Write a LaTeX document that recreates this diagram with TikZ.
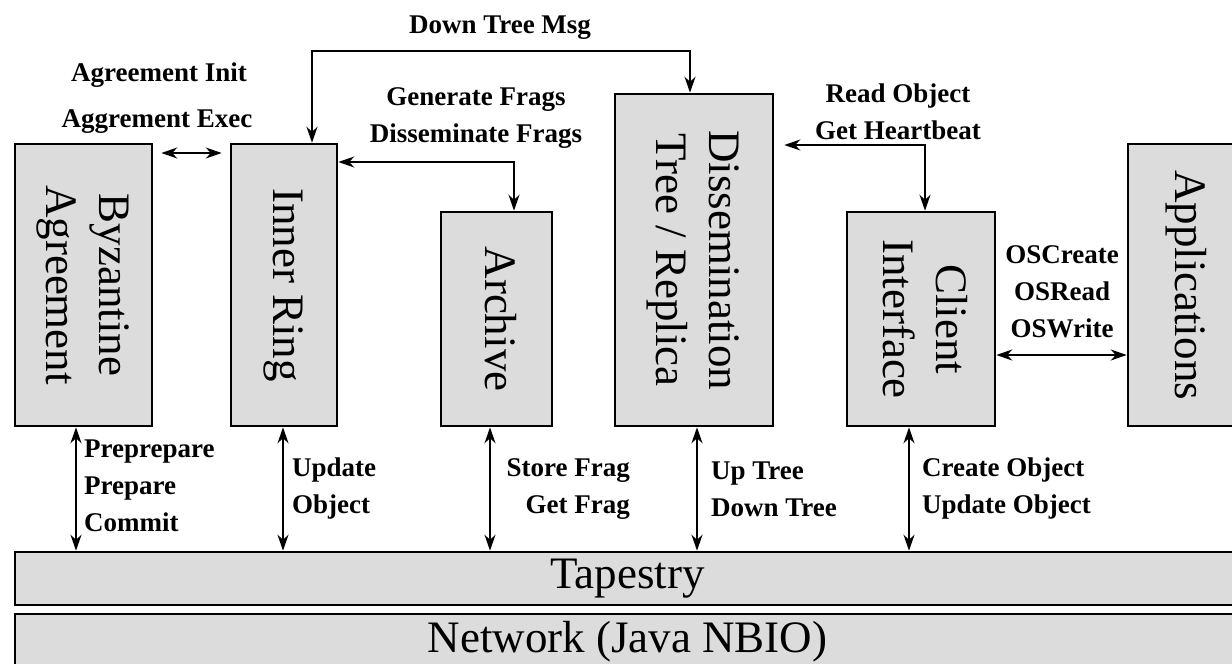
\documentclass[tikz,border=0pt]{standalone}
\usepackage{fontspec}
\setmainfont{Liberation Serif}
\usepackage{graphicx}
\usepackage{xcolor}
\usetikzlibrary{arrows.meta}

\definecolor{boxgray}{RGB}{220,220,220}
\newcommand{\vtext}[1]{\rotatebox{-90}{\begin{tabular}{@{}c@{}}#1\end{tabular}}}

\begin{document}
\begin{tikzpicture}[x=1pt, y=-1pt, >={Stealth[length=16pt,width=11pt]},
  blk/.style={draw, fill=boxgray, line width=2.6pt, inner sep=0pt, font=\fontsize{45}{53}\selectfont},
  lbl/.style={inner sep=0pt, font=\fontsize{27}{37}\selectfont\bfseries},
  conn/.style={line width=2.3pt}]

\path[use as bounding box, clip] (0,0) rectangle (1232,664);

  % Define the blocks
\node[blk, minimum width=137pt, minimum height=282pt] (byz) at (83.5,285) {\vtext{Byzantine\\Agreement}};
\node[blk, minimum width=106pt, minimum height=282pt] (ring) at (284,285) {\vtext{Inner Ring}};
\node[blk, minimum width=111pt, minimum height=214pt] (arch) at (496.5,319) {\vtext{Archive}};
\node[blk, minimum width=158pt, minimum height=332pt] (diss) at (694,260) {\vtext{Dissemination\\Tree / Replica}};
\node[blk, minimum width=148pt, minimum height=214pt] (client) at (921,319) {\vtext{Client\\Interface}};
\node[blk, minimum width=117pt, minimum height=282pt] (apps) at (1186.5,285) {\vtext{Applications}};
\node[blk, minimum width=1225pt, minimum height=53pt] (tap) at (627.5,578.5) {Tapestry};
\node[blk, minimum width=1225pt, minimum height=56pt] (net) at (627.5,642) {Network (Java NBIO)};

  % Define the labels
\node[lbl] (dtm) at (500,28) {Down Tree Msg};
\node[lbl] (agi) at (159,75) {Agreement Init};
\node[lbl] (age) at (157,122) {Aggrement Exec};
\node[lbl, align=center] (frg) at (476,118.5) {Generate Frags\\Disseminate Frags};
\node[lbl, align=center] (rob) at (898,112) {Read Object\\Get Heartbeat};
\node[lbl, align=center] (osc) at (1062,292) {OSCreate\\OSRead\\OSWrite};
\node[lbl, align=left, anchor=west] (ppc) at (84,486) {Preprepare\\Prepare\\Commit};
\node[lbl, align=left, anchor=west] (upd) at (292,489) {Update\\Object};
\node[lbl, align=right, anchor=east] (sfg) at (630,489) {Store Frag\\Get Frag};
\node[lbl, align=left, anchor=west] (utr) at (711,489) {Up Tree\\Down Tree};
\node[lbl, align=left, anchor=west] (cob) at (922,489) {Create Object\\Update Object};

\coordinate (agc) at (190,153); \coordinate (dtmc) at (500,51); \coordinate (gfc) at (514,162); \coordinate (roc) at (925,145); \coordinate (osa) at (1060,355);

  % Draw arrows between blocks
\draw[conn, <->] ([xshift=8pt]byz.east |- agc) to ([xshift=-8pt]ring.west |- agc);
\draw[conn, <->] ([xshift=28pt]ring.north) |- (dtmc) -| ([xshift=-4pt]diss.north);
\draw[conn, <->] (ring.east |- gfc) -| (arch.north -| gfc);
\draw[conn, <->] ([xshift=10pt]diss.east |- roc) -| (client.north -| roc);
\draw[conn, <->] (client.east |- osa) to (apps.west |- osa);

  % Draw arrows down to Tapestry
\draw[conn, <->] ([xshift=-7.5pt]byz.south) to ([xshift=-7.5pt]byz.south |- tap.north);
\draw[conn, <->] ([xshift=-1pt]ring.south) to ([xshift=-1pt]ring.south |- tap.north);
\draw[conn, <->] ([xshift=-6.5pt]arch.south) to ([xshift=-6.5pt]arch.south |- tap.north);
\draw[conn, <->] ([xshift=3pt]diss.south) to ([xshift=3pt]diss.south |- tap.north);
\draw[conn, <->] ([xshift=-12pt]client.south) to ([xshift=-12pt]client.south |- tap.north);

\end{tikzpicture}
\end{document}
